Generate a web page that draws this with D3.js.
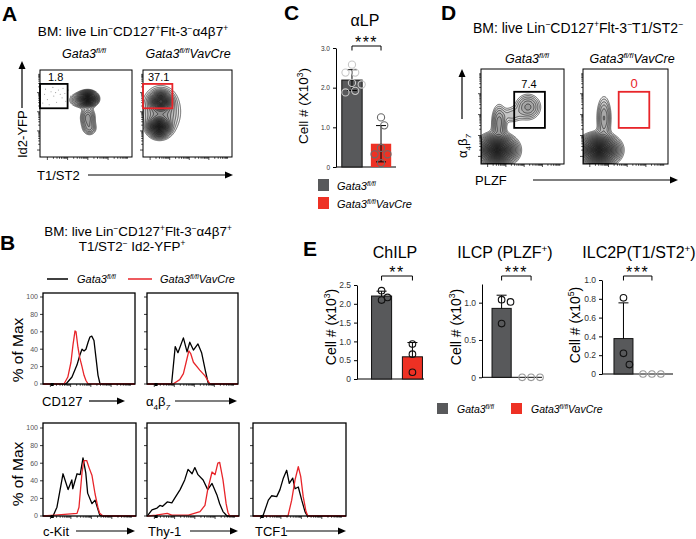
<!DOCTYPE html>
<html><head><meta charset="utf-8">
<script src="https://cdn.jsdelivr.net/npm/d3@7"></script>
<style>body{margin:0;background:#fff}svg{display:block}text{font-family:Arial,"Liberation Sans",Helvetica,sans-serif}</style>
</head><body><svg id="fig" width="696" height="539"></svg>
<script>
// ================= DATA =================
const groups = ["Gata3fl/fl", "Gata3fl/flVavCre"];
const groupColors = ["#58595b", "#ee3124"];

// Panel A flow populations: [centerX, centerY, spreadX, spreadY, weight] (channel units 0-100)
const aWtPops = [[52,67,4.9,4.0,1],[52,45,4.3,6.9,0.16],[54,33,4.3,4.6,0.09],[43.5,65.5,6.5,4.6,0.12]];
const aKoPops = [[20,64,5.6,5.2,0.8],[18,34.5,5.6,5.2,1],[20,52,12,16,0.16]];
const aWtGate = [0,56,30,84];
const aKoGate = [0,56,33,84];
const aGateLabels = ["1.8","37.1"];
const aWtEvents = [[5,72],[8,66],[12,75],[15,70],[18,63],[20,77],[24,68],[10,60],[27,73],[14,80],[22,72],[6,78],[28,64],[17,74],[3,62],[25,79],[33,70],[36,62],[31,77]];

// Panel D flow populations
const dWtPops = [[19.3,14.7,11,7.5,1],[21.7,43,4.8,10.5,0.15],[56.6,60,8.4,7.4,0.14],[37,51.6,7.2,5.3,0.06]];
const dKoPops = [[18.8,14.7,11,7.5,1],[24.7,48.4,4.7,12.6,0.13]];
const dWtGate = [40,38,77,76];
const dKoGate = [42,38,78,76];
const dGateLabels = ["7.4","0"];

// Panel B histograms: [channel, % of max]
const cd127Wt = [[25,0],[31.5,8],[37,22],[40,33],[42.4,40],[44.6,38],[46.7,40],[49,48],[51,54],[53,55],[55.4,50],[57.6,30],[59.8,10],[62,0]];
const cd127Ko = [[22.8,0],[27,8],[30.4,25],[32.6,45],[34.8,61],[35.9,60],[38,42],[40,30],[42.4,20],[44.6,10],[46.7,4],[49,0]];
const a4b7Wt = [[27,0],[31,43],[34,36],[40,53],[44,37],[47,48],[51,39],[56,46],[60,36],[64,16],[67,2],[69,0]];
const a4b7Ko = [[28.6,0],[36,5],[40,12],[43,25],[46,38],[48,35],[51,25],[58,16],[64,9],[69,0]];
const ckitWt = [[10.8,0],[15,10],[21.5,48],[27,30],[31,41],[32,31],[36.6,48],[40,47],[43,66],[46,49],[48,26],[52.7,14],[56,18],[61,1],[64.5,0]];
const ckitKo = [[13,1],[36.6,3],[38.7,10],[40,26],[42,50],[44,63],[47,63],[49.5,55],[52.7,46],[56,25],[59,10],[61,3],[64.5,0]];
const thy1Wt = [[1,1],[5.4,7],[10.9,9],[14,12],[17,11],[22,16],[27,15],[30,20],[36,30],[41,41],[44.6,53],[49,48],[52,55],[55.4,47],[61,41],[66,30],[70.7,37],[76,24],[79,14],[82.6,5],[87,0]];
const thy1Ko = [[1,0],[10,1],[22,3],[27,1],[45,1],[57.6,5],[63,12],[66,30],[70.7,50],[74,47],[77,60],[79,61],[82.6,41],[86,14],[88,4],[90,0]];
const tcf1Wt = [[9,0],[11,1],[16.5,18],[20,23],[25.5,22],[29,30],[32.6,43],[36.2,52],[39,37],[42.7,43],[45.2,31],[48.7,33],[52.4,18],[55.9,5],[58.4,0]];
const tcf1Ko = [[37.6,0],[41.6,18],[45.2,41],[48.7,56],[51.3,45],[54,22],[57,5],[59,0]];
const histTicks = [0,20,40,60,80,100];

// Panel C & E bar data (cell numbers per mouse)
const alpVals   = [[2.58,2.38,2.38,2.12,2.08,1.92,1.88],[1.25,1.05,0.48,0.32,0.32,0.10]];
const chilpVals = [[2.10,2.35,2.17],[0.93,0.66,0.18]];
const ilcpVals  = [[1.04,1.01,0.72],[0,0,0]];
const ilc2pVals = [[0.81,0.22,0.10],[0,0,0]];
const alpTicks = [0,1,2,3], alpTickLabels = ["0","1.0","2.0","3.0"];
const chilpTicks = [0,0.5,1,1.5,2,2.5], chilpTickLabels = ["0","0.5","1.0","1.5","2.0","2.5"];
const ilcpTicks = [0,0.5,1], ilcpTickLabels = ["0","0.5","1.0"];
const ilc2pTicks = [0,0.2,0.4,0.6,0.8,1.0], ilc2pTickLabels = ["0","0.2","0.4","0.6","0.8","1.0"];
const sigC = "***", sigChilp = "**", sigIlcp = "***", sigIlc2p = "***";

// ================= HELPERS =================
const svg = d3.select("#fig");
svg.append("rect").attr("width",696).attr("height",539).attr("fill","#fff");
const gataWt = [["Gata3"],["fl/fl","^"]];
const gataKo = [["Gata3"],["fl/fl","^"],["VavCre"]];

function rich(parent, x, y, segs, size, opt = {}) {
  const t = parent.append("text").attr("x", x).attr("y", y).attr("font-size", size)
    .attr("text-anchor", opt.anchor || "start").attr("fill", opt.fill || "#000");
  if (opt.italic) t.attr("font-style", "italic");
  if (opt.weight) t.attr("font-weight", opt.weight);
  if (opt.rotate) t.attr("transform", `rotate(${opt.rotate},${x},${y})`);
  let cur = 0;
  segs.forEach(s => {
    const f = s[1] || "";
    const sup = f.includes("^"), sub = f.includes("_");
    const target = sup ? -0.4 * size : sub ? 0.28 * size : 0;
    const ts = t.append("tspan").text(s[0]).attr("dy", target - cur);
    if (sup || sub) ts.attr("font-size", size * 0.62);
    if (f.includes("i")) ts.attr("font-style", "italic");
    cur = target;
  });
  return t;
}
function arrow(g, x1, y1, x2, y2, len = 8, wid = 3.5) {
  const a = Math.atan2(y2 - y1, x2 - x1);
  const bx = x2 - len * Math.cos(a), by = y2 - len * Math.sin(a);
  g.append("line").attr("x1", x1).attr("y1", y1).attr("x2", bx).attr("y2", by).attr("stroke", "#000").attr("stroke-width", 1.2);
  const px = -Math.sin(a) * wid, py = Math.cos(a) * wid;
  g.append("polygon").attr("points", `${x2},${y2} ${bx+px},${by+py} ${bx-px},${by-py}`).attr("fill", "#000");
}
function logTicks(g, x0, y0, w, h, side) {
  const pos = [];
  for (let d = 0; d < 4; d++) for (let m = 1; m < 10; m++) {
    const p = 8 + (d + Math.log10(m)) * 22;
    if (p < 98) pos.push({p, major: m === 1});
  }
  pos.forEach(t => {
    const L = t.major ? 3 : 1.8;
    if (side === "bottom") {
      const x = x0 + t.p / 100 * w;
      g.append("line").attr("x1", x).attr("x2", x).attr("y1", y0 + h).attr("y2", y0 + h + L).attr("stroke", "#000").attr("stroke-width", 0.7);
    } else {
      const y = y0 + h - t.p / 100 * h;
      g.append("line").attr("x1", x0 - L).attr("x2", x0).attr("y1", y).attr("y2", y).attr("stroke", "#000").attr("stroke-width", 0.7);
    }
  });
}
let clipN = 0;
function flowPlot(g, box, pops, gate, gateColor, label, labelPos, events) {
  const [x0, y0, w, h] = box;
  const xs = d3.scaleLinear([0, 100], [x0, x0 + w]), ys = d3.scaleLinear([0, 100], [y0 + h, y0]);
  const n = 160, vals = new Float64Array(n * n);
  for (let j = 0; j < n; j++) for (let i = 0; i < n; i++) {
    const cx = (i + 0.5) / n * 100, cy = 100 - (j + 0.5) / n * 100;
    let v = 0;
    pops.forEach(p => { const dx = (cx - p[0]) / p[2], dy = (cy - p[1]) / p[3]; v += p[4] * Math.exp(-0.5 * (dx * dx + dy * dy)); });
    vals[j * n + i] = v;
  }
  const mx = d3.max(vals);
  // probability-like contour levels: evenly spaced radii in sigma units
  const N = 20;
  const th = d3.range(N).map(k => { const r = 2.7 - k * (2.55 / (N - 1)); return mx * Math.exp(-0.5 * r * r); });
  const cs = d3.contours().size([n, n]).thresholds(th)(vals);
  const proj = d3.geoTransform({ point(x, y) { this.stream.point(x0 + x / n * w, y0 + y / n * h); } });
  const path = d3.geoPath(proj);
  const id = "clip" + (clipN++);
  g.append("clipPath").attr("id", id).append("rect").attr("x", x0).attr("y", y0).attr("width", w).attr("height", h);
  const cg = g.append("g").attr("clip-path", `url(#${id})`);
  if (events) cg.selectAll("circle").data(events).join("circle").attr("cx", d => xs(d[0])).attr("cy", d => ys(d[1])).attr("r", 0.55).attr("fill", "#999");
  cg.selectAll("path").data(cs).join("path").attr("d", path)
    .attr("fill", "rgba(0,0,0,0.08)").attr("stroke", "#111").attr("stroke-width", 0.6);
  g.append("rect").attr("x", x0).attr("y", y0).attr("width", w).attr("height", h).attr("fill", "none").attr("stroke", "#000").attr("stroke-width", 1);
  logTicks(g, x0, y0, w, h, "bottom");
  logTicks(g, x0, y0, w, h, "left");
  g.append("rect").attr("x", xs(gate[0])).attr("y", ys(gate[3])).attr("width", xs(gate[2]) - xs(gate[0])).attr("height", ys(gate[1]) - ys(gate[3]))
    .attr("fill", "none").attr("stroke", gateColor).attr("stroke-width", 1.8);
  g.append("text").attr("x", labelPos[0]).attr("y", labelPos[1]).attr("font-size", labelPos[2]).attr("text-anchor", labelPos[3])
    .attr("fill", labelPos[4]).text(label);
}
function histPanel(g, box, series, ymax, showLabels) {
  const [x0, y0, w, h] = box;
  const x = d3.scaleLinear([0, 100], [x0, x0 + w]);
  const y = d3.scaleLinear([0, ymax], [y0 + h, y0]);
  const line = d3.line().x(d => x(d[0])).y(d => y(d[1]));
  series.forEach(s => {
    const pts = [[0, 0]].concat(s.pts, [[100, 0]]);
    g.append("path").attr("d", line(pts)).attr("fill", "none").attr("stroke", s.color).attr("stroke-width", 1.3).attr("stroke-linejoin", "round");
  });
  g.append("rect").attr("x", x0).attr("y", y0).attr("width", w).attr("height", h).attr("fill", "none").attr("stroke", "#000").attr("stroke-width", 1.3);
  histTicks.forEach(t => {
    g.append("line").attr("x1", x0 - 3).attr("x2", x0).attr("y1", y(t)).attr("y2", y(t)).attr("stroke", "#000").attr("stroke-width", 0.8);
    if (showLabels) g.append("text").attr("x", x0 - 5).attr("y", y(t) + 2.4).attr("font-size", 7).attr("fill", "#555").attr("text-anchor", "end").text(t);
  });
  logTicks(g, x0, y0, w, h, "bottom");
  g.append("rect").attr("x", x(10) - 1.5).attr("y", y0 + h - 1).attr("width", 3).attr("height", 3).attr("fill", "#000");
}
function beeswarm(vals, r) {
  const placed = [];
  return vals.map((v, idx) => ({v, idx})).sort((a, b) => b.v - a.v).map(p => {
    const cands = [0]; for (let k = 1; k < 8; k++) { cands.push(k * r * 0.9, -k * r * 0.9); }
    let off = 0;
    for (const c of cands) { if (placed.every(q => Math.hypot(q.off - c, (q.v - p.v) * r * 9) >= 2 * r * 0.95)) { off = c; break; } }
    placed.push({v: p.v, off}); return {v: p.v, off};
  });
}
function barChart(g, cfg) {
  const y = d3.scaleLinear([0, cfg.ymax], [cfg.baseY, cfg.topY]);
  const x = d3.scaleBand(groups, cfg.band).paddingInner(cfg.padIn).paddingOuter(cfg.padOut);
  const ax = g.append("g").attr("transform", `translate(${cfg.axisX},0)`)
    .call(d3.axisLeft(y).tickValues(cfg.ticks).tickFormat((d, i) => cfg.labels[i]).tickSize(3).tickSizeOuter(0));
  ax.selectAll("text").attr("font-size", cfg.tickFont).attr("font-family", "Arial, Liberation Sans, sans-serif").attr("fill", "#333");
  ax.select(".domain").attr("stroke-width", 1);
  g.append("line").attr("x1", cfg.axisX).attr("x2", cfg.baseEnd).attr("y1", y(0)).attr("y2", y(0)).attr("stroke", "#000").attr("stroke-width", 1);
  cfg.data.forEach((vals, gi) => {
    const m = d3.mean(vals), sd = d3.deviation(vals);
    const bx = x(groups[gi]), bw = x.bandwidth(), cx = bx + bw / 2;
    if (m > 0) g.append("rect").attr("x", bx).attr("y", y(m)).attr("width", bw).attr("height", y(0) - y(m))
      .attr("fill", groupColors[gi]).attr("stroke", cfg.barStroke[gi]).attr("stroke-width", 1);
    if (sd > 0) {
      const lo = cfg.errBoth ? Math.max(0, m - sd) : m;
      g.append("line").attr("x1", cx).attr("x2", cx).attr("y1", y(lo)).attr("y2", y(m + sd)).attr("stroke", "#000").attr("stroke-width", 1);
      g.append("line").attr("x1", cx - 5).attr("x2", cx + 5).attr("y1", y(m + sd)).attr("y2", y(m + sd)).attr("stroke", "#000").attr("stroke-width", 1);
      if (cfg.errBoth) g.append("line").attr("x1", cx - 5).attr("x2", cx + 5).attr("y1", y(lo)).attr("y2", y(lo)).attr("stroke", "#000").attr("stroke-width", 1);
    }
    const sw = beeswarm(vals, cfg.r);
    g.selectAll(null).data(sw).join("circle").attr("cx", d => cx + d.off).attr("cy", d => y(d.v)).attr("r", cfg.r)
      .attr("fill", "none").attr("stroke", m > 0 ? cfg.ptStroke[gi] : "#999").attr("stroke-width", 1.1);
  });
  const c0 = x(groups[0]) + x.bandwidth() / 2, c1 = x(groups[1]) + x.bandwidth() / 2;
  g.append("path").attr("d", `M${c0},${cfg.brY + 4.5}V${cfg.brY}H${c1}V${cfg.brY + 4.5}`).attr("fill", "none").attr("stroke", "#000").attr("stroke-width", 1);
  g.append("text").attr("x", (c0 + c1) / 2).attr("y", cfg.brY + 2).attr("text-anchor", "middle").attr("font-size", 16).attr("letter-spacing", 1.5).text(cfg.sig);
}

// ================= PANEL LETTERS =================
[["A",2,21],["C",284,20],["D",441,20],["B",0,250],["E",303,256]].forEach(d =>
  svg.append("text").attr("x", d[1]).attr("y", d[2]).attr("font-size", 21).attr("font-weight", "bold").text(d[0]));

// ================= PANEL A =================
const gA = svg.append("g");
const titleA = [["BM: live Lin"],["−","^"],["CD127"],["+","^"],["Flt-3"],["−","^"],["α4β7"],["+","^"]];
rich(gA, 133, 36, titleA, 13.6, {anchor: "middle"});
rich(gA, 84, 58, gataWt, 12.5, {anchor: "middle", italic: true});
rich(gA, 188, 58, gataKo, 12.5, {anchor: "middle", italic: true});
flowPlot(gA, [40, 70, 92, 87], aWtPops, aWtGate, "#000", aGateLabels[0], [48, 81, 11, "start", "#000"], aWtEvents);
flowPlot(gA, [143, 70, 89, 87], aKoPops, aKoGate, "#e8252a", aGateLabels[1], [148, 81, 11, "start", "#000"], null);
arrow(gA, 22, 108, 22, 61);
rich(gA, 27, 158, [["Id2-YFP"]], 13, {rotate: -90});
rich(gA, 37, 180, [["T1/ST2"]], 13);
arrow(gA, 88, 175, 233, 175);

// ================= PANEL C =================
const gC = svg.append("g");
gC.append("text").attr("x", 365).attr("y", 26).attr("text-anchor", "middle").attr("font-size", 16).text("αLP");
barChart(gC, {axisX: 336, baseY: 167, topY: 48, ymax: 3, ticks: alpTicks, labels: alpTickLabels, tickFont: 6.5,
  band: [336, 397], padIn: 0.3, padOut: 0.2, baseEnd: 396, data: alpVals, barStroke: ["#111", "none"],
  ptStroke: ["#c8c8c8", "#6a6a6a"], r: 3.6, errBoth: true, brY: 46, sig: sigC});
rich(gC, 308, 106, [["Cell # (X10"],["3","^"],[")"]], 13.5, {anchor: "middle", rotate: -90});
gC.append("rect").attr("x", 318).attr("y", 179).attr("width", 11).attr("height", 12).attr("fill", groupColors[0]);
gC.append("rect").attr("x", 318).attr("y", 197).attr("width", 11).attr("height", 12).attr("fill", groupColors[1]);
rich(gC, 337, 190, gataWt, 11, {italic: true});
rich(gC, 337, 208, gataKo, 11, {italic: true});

// ================= PANEL D =================
const gD = svg.append("g");
const titleD = [["BM: live Lin"],["−","^"],["CD127"],["+","^"],["Flt-3"],["−","^"],["T1/ST2"],["−","^"]];
rich(gD, 578, 33, titleD, 14, {anchor: "middle"});
rich(gD, 527, 63, gataWt, 12.5, {anchor: "middle", italic: true});
rich(gD, 632, 63, gataKo, 12.5, {anchor: "middle", italic: true});
flowPlot(gD, [481, 69, 83, 95], dWtPops, dWtGate, "#000", dGateLabels[0], [529, 88, 11, "middle", "#000"], null);
flowPlot(gD, [583, 69, 85, 95], dKoPops, dKoGate, "#e8252a", dGateLabels[1], [634, 88, 13, "middle", "#e8252a"], null);
arrow(gD, 462, 119, 462, 69);
rich(gD, 467, 158, [["α"],["4","_"],["β"],["7","_i"]], 13, {rotate: -90});
rich(gD, 475, 185, [["PLZF"]], 13);
arrow(gD, 533, 180, 678, 180);

// ================= PANEL B =================
const gB = svg.append("g");
rich(gB, 138, 236, titleA, 13.4, {anchor: "middle"});
rich(gB, 132, 251, [["T1/ST2"],["−","^"],[" Id2-YFP"],["+","^"]], 13.4, {anchor: "middle"});
gB.append("line").attr("x1", 47).attr("x2", 68).attr("y1", 279).attr("y2", 279).attr("stroke", "#000").attr("stroke-width", 1.5);
gB.append("line").attr("x1", 128).attr("x2", 152).attr("y1", 279).attr("y2", 279).attr("stroke", "#e8252a").attr("stroke-width", 1.5);
rich(gB, 77, 283, gataWt, 11, {italic: true});
rich(gB, 160, 283, gataKo, 11, {italic: true});
histPanel(gB, [43, 293, 92, 91], [{pts: cd127Wt, color: "#000"}, {pts: cd127Ko, color: "#e8252a"}], 104.6, true);
histPanel(gB, [147, 293, 91, 91], [{pts: a4b7Wt, color: "#000"}, {pts: a4b7Ko, color: "#e8252a"}], 104.6, false);
histPanel(gB, [43, 423, 93, 93], [{pts: ckitWt, color: "#000"}, {pts: ckitKo, color: "#e8252a"}], 105.7, true);
histPanel(gB, [147, 423, 92, 93], [{pts: thy1Wt, color: "#000"}, {pts: thy1Ko, color: "#e8252a"}], 105.7, false);
histPanel(gB, [253, 423, 93, 93], [{pts: tcf1Wt, color: "#000"}, {pts: tcf1Ko, color: "#e8252a"}], 105.7, false);
rich(gB, 23, 350, [["% of Max"]], 15.5, {anchor: "middle", rotate: -90});
rich(gB, 23, 474, [["% of Max"]], 15.5, {anchor: "middle", rotate: -90});
rich(gB, 42, 406, [["CD127"]], 13); arrow(gB, 89, 401, 125, 401);
rich(gB, 146, 406, [["α"],["4","_"],["β"],["7","_i"]], 13); arrow(gB, 175, 401, 237, 401);
rich(gB, 43, 536, [["c-Kit"]], 13); arrow(gB, 76, 531, 135, 531);
rich(gB, 148, 536, [["Thy-1"]], 13); arrow(gB, 190, 531, 238, 531);
rich(gB, 255, 536, [["TCF1"]], 13); arrow(gB, 286, 531, 346, 531);

// ================= PANEL E =================
const gE = svg.append("g");
gE.append("text").attr("x", 395).attr("y", 258).attr("text-anchor", "middle").attr("font-size", 16).text("ChILP");
rich(gE, 505, 258, [["ILCP (PLZF"],["+","^"],[")"]], 16, {anchor: "middle"});
rich(gE, 639, 258, [["ILC2P(T1/ST2"],["+","^"],[")"]], 16, {anchor: "middle"});
barChart(gE, {axisX: 357, baseY: 379, topY: 285, ymax: 2.5, ticks: chilpTicks, labels: chilpTickLabels, tickFont: 8.5,
  band: [370, 424], padIn: 0.35, padOut: 0.05, baseEnd: 424, data: chilpVals, barStroke: ["#111", "#111"],
  ptStroke: ["#111", "#111"], r: 3.3, errBoth: false, brY: 276, sig: sigChilp});
barChart(gE, {axisX: 482, baseY: 377.3, topY: 284, ymax: 1.25, ticks: ilcpTicks, labels: ilcpTickLabels, tickFont: 8.5,
  band: [487.6, 545.1], padIn: 0.35, padOut: 0.15, baseEnd: 542, data: ilcpVals, barStroke: ["#111", "#111"],
  ptStroke: ["#111", "#111"], r: 3.3, errBoth: false, brY: 276, sig: sigIlcp});
barChart(gE, {axisX: 602, baseY: 374, topY: 280, ymax: 1.0, ticks: ilc2pTicks, labels: ilc2pTickLabels, tickFont: 8.5,
  band: [609.7, 665.7], padIn: 0.333, padOut: 0.15, baseEnd: 673, data: ilc2pVals, barStroke: ["#111", "#111"],
  ptStroke: ["#111", "#111"], r: 3.3, errBoth: false, brY: 276, sig: sigIlc2p});
rich(gE, 336, 327, [["Cell # (x10"],["3","^"],[")"]], 14, {anchor: "middle", rotate: -90});
rich(gE, 461, 327, [["Cell # (x10"],["3","^"],[")"]], 14, {anchor: "middle", rotate: -90});
rich(gE, 580, 325, [["Cell # (x10"],["5","^"],[")"]], 14, {anchor: "middle", rotate: -90});
gE.append("rect").attr("x", 437).attr("y", 403).attr("width", 11).attr("height", 11).attr("fill", groupColors[0]);
gE.append("rect").attr("x", 511).attr("y", 403).attr("width", 11).attr("height", 11).attr("fill", groupColors[1]);
rich(gE, 457, 413, gataWt, 10.5, {italic: true});
rich(gE, 531, 413, gataKo, 10.5, {italic: true});
</script></body></html>
